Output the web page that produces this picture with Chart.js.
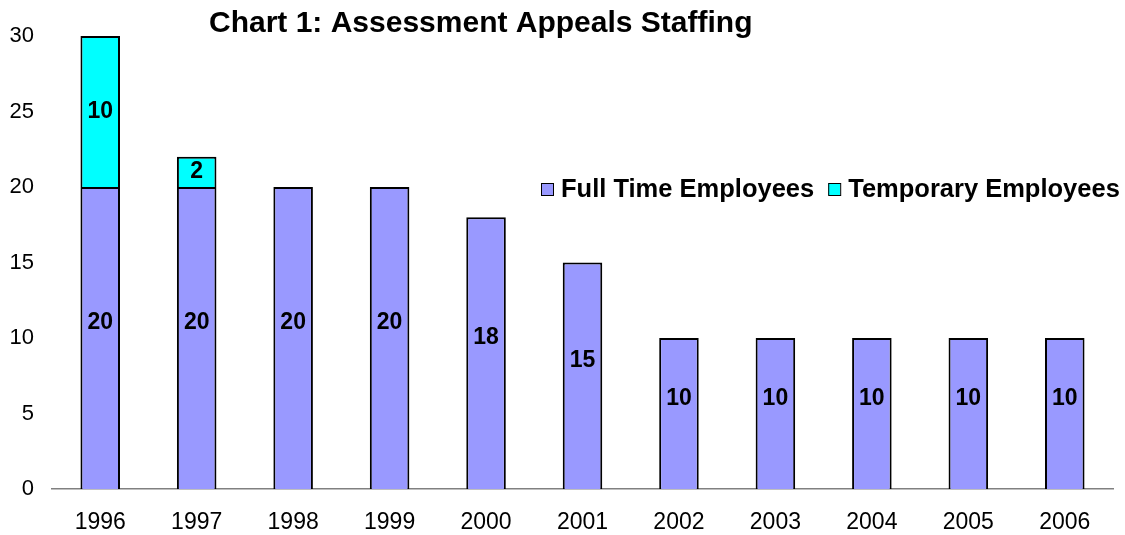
<!DOCTYPE html>
<html lang="en">
<head>
    <meta charset="UTF-8">
    <title>Assessment Appeals Staffing</title>
    <script src="https://cdn.jsdelivr.net/npm/chart.js"></script>
    <style>
        body {
            margin: 0;
            padding: 0;
            background: #fff;
        }
    </style>
</head>
<body>
    <canvas id="staffChart" width="1125" height="535"></canvas>

    <script>
        const years = ["1996", "1997", "1998", "1999", "2000", "2001", "2002", "2003", "2004", "2005", "2006"];
        const fullTime = [20, 20, 20, 20, 18, 15, 10, 10, 10, 10, 10];
        const temporary = [10, 2, 0, 0, 0, 0, 0, 0, 0, 0, 0];
        const chartTitle = "Chart 1: Assessment Appeals Staffing";

        const FONT = "'Liberation Sans', Arial, sans-serif";

        // value labels inside the bars (Excel puts the bottom ones a bit high)
        const barLabels = {
            id: "barLabels",
            afterDatasetsDraw(chart) {
                const ctx = chart.ctx;
                ctx.save();
                ctx.font = "bold 23px " + FONT;
                ctx.fillStyle = "#000";
                ctx.textAlign = "center";
                ctx.textBaseline = "middle";
                chart.data.datasets.forEach((ds, i) => {
                    chart.getDatasetMeta(i).data.forEach((bar, j) => {
                        const v = ds.data[j];
                        if (!v) return;
                        let mid = (bar.y + bar.base) / 2;
                        if (i === 0) mid -= 15;
                        ctx.fillText(String(v), bar.x, mid);
                    });
                });
                ctx.restore();
            }
        };

        // title and legend drawn over the plot like the original
        const titleLegend = {
            id: "titleLegend",
            afterDraw(chart) {
                const ctx = chart.ctx;
                ctx.save();
                ctx.fillStyle = "#000";
                ctx.textBaseline = "alphabetic";
                ctx.textAlign = "left";
                ctx.font = "bold 30px " + FONT;
                ctx.fillText(chartTitle, 209, 32);

                ctx.font = "bold 25.5px " + FONT;
                let x = 541;
                const y = 197;
                chart.data.datasets.forEach(ds => {
                    ctx.fillStyle = ds.backgroundColor;
                    ctx.fillRect(x, 183, 12, 12);
                    ctx.strokeStyle = "#000";
                    ctx.lineWidth = 1;
                    ctx.strokeRect(x + 0.5, 183.5, 12, 12);
                    ctx.fillStyle = "#000";
                    ctx.fillText(ds.label, x + 20, y);
                    x += 20 + ctx.measureText(ds.label).width + 14;
                });
                ctx.restore();
            }
        };

        const ctx = document.getElementById("staffChart").getContext("2d");
        new Chart(ctx, {
            type: "bar",
            data: {
                labels: years,
                datasets: [
                    {
                        label: "Full Time Employees",
                        data: fullTime,
                        backgroundColor: "#9999ff",
                        borderColor: "#000",
                        borderWidth: 2,
                        barPercentage: 0.41,
                        categoryPercentage: 1
                    },
                    {
                        label: "Temporary Employees",
                        data: temporary,
                        backgroundColor: "#00ffff",
                        borderColor: "#000",
                        borderWidth: 2,
                        barPercentage: 0.41,
                        categoryPercentage: 1
                    }
                ]
            },
            options: {
                responsive: false,
                animation: false,
                layout: {
                    padding: { top: 36, right: 12, bottom: 0, left: 0 }
                },
                plugins: {
                    legend: { display: false },
                    title: { display: false },
                    tooltip: { enabled: false }
                },
                scales: {
                    x: {
                        stacked: true,
                        grid: { display: false, drawTicks: false },
                        border: { display: true, color: "#808080", width: 1.5 },
                        afterFit(scale) { scale.height = 46; },
                        ticks: {
                            padding: 20,
                            color: "#000",
                            font: { family: FONT, size: 23 }
                        }
                    },
                    y: {
                        stacked: true,
                        min: 0,
                        max: 30,
                        grid: { display: false, drawTicks: false },
                        border: { display: false },
                        afterFit(scale) { scale.width = 52; },
                        ticks: {
                            stepSize: 5,
                            padding: 18,
                            color: "#000",
                            font: { family: FONT, size: 22 }
                        }
                    }
                }
            },
            plugins: [barLabels, titleLegend]
        });
    </script>
</body>
</html>
